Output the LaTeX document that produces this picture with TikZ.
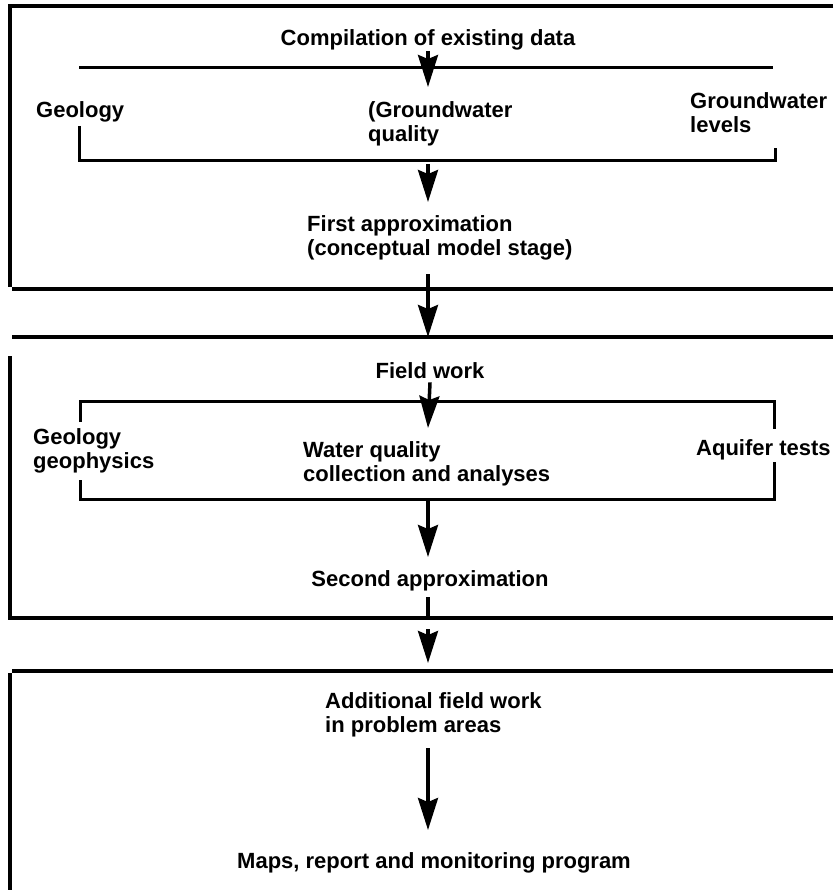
\documentclass[tikz,border=0pt]{standalone}
\usepackage{fontspec}
\setmainfont{Liberation Sans}
\usetikzlibrary{arrows.meta,calc}

\tikzset{
  lbl/.style={font=\bfseries\fontsize{22}{24}\selectfont, inner sep=0pt},
  frame/.style={line width=3.2pt},
  brack/.style={line width=3pt},
  flow/.style={line width=3.5pt, -{Stealth[length=32pt,width=20pt,inset=4pt]}},
}

\begin{document}
\begin{tikzpicture}[x=1pt,y=-1pt]
        \useasboundingbox (0,0) rectangle (833,890);

        \def\xmid{428}

        % Stage 1: existing data
        \draw[frame] (833,6) -- (10,6) -- (10,287);
        \draw[frame] (12,289) -- (833,289);

        \node[lbl, anchor=base] (comp) at (\xmid,46) {Compilation of existing data};
        \node[lbl, anchor=base west] (geoA) at (36,118) {Geology};
        \node[lbl, anchor=base west, align=left] (gwq) at (368,142) {(Groundwater\\quality};
        \node[lbl, anchor=base west, align=left] (gwl) at (690,133) {Groundwater\\levels};
        \node[lbl, anchor=base west, align=left] (approxA) at (307,255) {First approximation\\(conceptual model stage)};

        \coordinate (barAw) at (79,68);
        \coordinate (barAe) at (773,68);
        \draw[brack] (barAw) -- (barAe);

        \coordinate (brAw) at (79,126);
        \coordinate (brAe) at (775,148);
        \draw[brack] (brAw) |- (\xmid,161) -| (brAe);

        \coordinate (tipA) at (\xmid,87);
        \coordinate (tipB) at (\xmid,202);
        \coordinate (tipC) at (\xmid,337);
        \draw[flow] (comp.south) -- (tipA);
        \draw[flow] (\xmid,164) -- (tipB);
        \draw[flow] (\xmid,274) -- (tipC);

        % Stage 2: field work
        \draw[frame] (833,337) -- (12,337);
        \draw[frame] (10,356) -- (10,618) -- (833,618);

        \node[lbl, anchor=base] (field) at (430,378) {Field work};
        \node[lbl, anchor=base west, align=left] (geoB) at (33,468) {Geology\\geophysics};
        \node[lbl, anchor=base west, align=left] (wq) at (303,481) {Water quality\\collection and analyses};
        \node[lbl, anchor=base west] (aqf) at (696,455) {Aquifer tests};
        \node[lbl, anchor=base] (approxB) at (430,586) {Second approximation};

        \draw[brack] (80,422) |- (774,401) -- (774,429);
        \draw[brack] (80,480) |- (774,499) -- (774,462);

        \coordinate (tipD) at (\xmid,428);
        \coordinate (tipE) at (\xmid,557);
        \draw[flow] (field.south) ++(0,4) -- (tipD);
        \draw[flow] (\xmid,499) -- (tipE);
        \draw[frame] (\xmid,597) -- (\xmid,617);

        % Stage 3: final products
        \coordinate (tipF) at (\xmid,663);
        \draw[flow] (\xmid,629) -- (tipF);
        \draw[frame] (833,671) -- (12,671);
        \draw[frame] (10,673) -- (10,890);

        \node[lbl, anchor=base west, align=left] (addf) at (325,732) {Additional field work\\in problem areas};
        \node[lbl, anchor=base] (maps) at (434,868) {Maps, report and monitoring program};

        \coordinate (tipG) at (\xmid,830);
        \draw[flow] (\xmid,748) -- (tipG);
\end{tikzpicture}
\end{document}
